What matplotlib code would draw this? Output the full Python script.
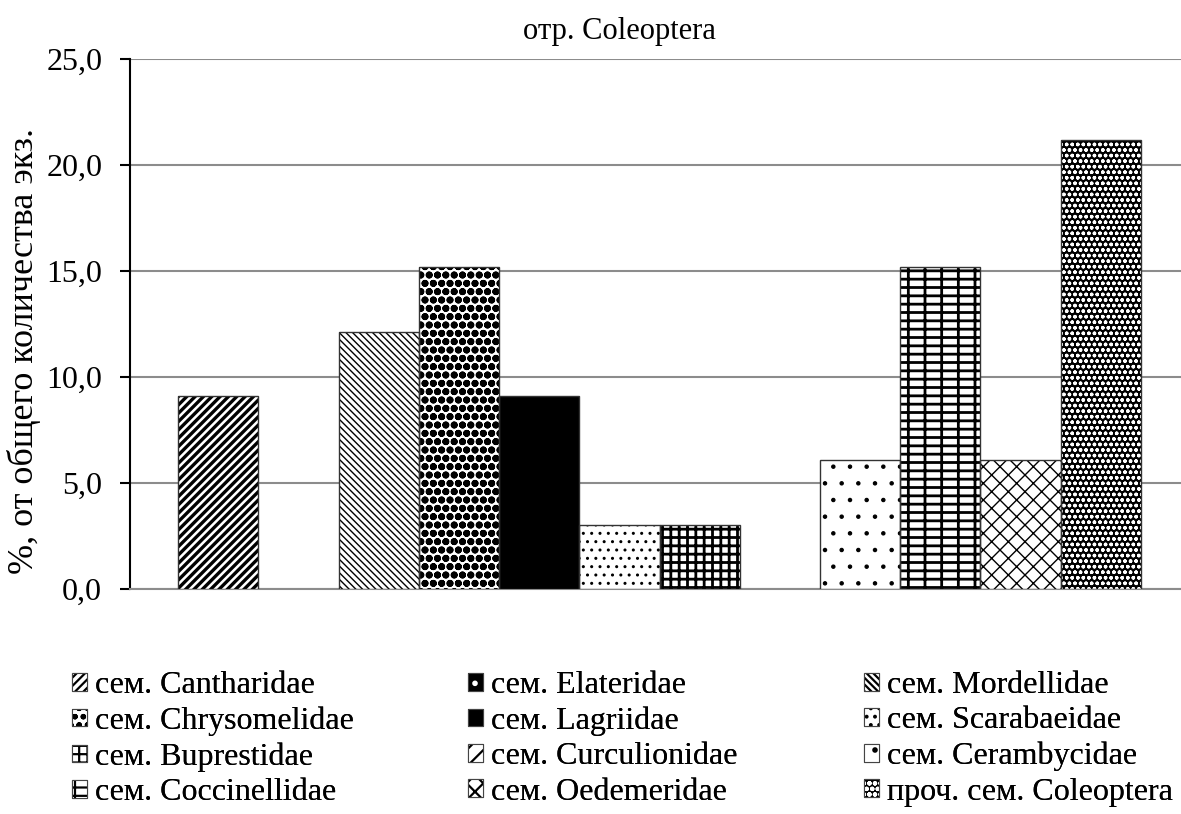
import matplotlib
matplotlib.use("Agg")
import matplotlib.pyplot as plt
from matplotlib.patches import Patch
import numpy as np

# series data (one category, 12 families)
families = [
    "сем. Cantharidae", "сем. Elateridae", "сем. Mordellidae",
    "сем. Chrysomelidae", "сем. Lagriidae", "сем. Scarabaeidae",
    "сем. Buprestidae", "сем. Curculionidae", "сем. Cerambycidae",
    "сем. Coccinellidae", "сем. Oedemeridae", "проч. сем. Coleoptera",
]
percents = [9.1, 0.0, 12.1, 15.2, 9.1, 3.0, 3.0, 0.0, 6.1, 15.2, 6.1, 21.2]
yticks = [0, 5, 10, 15, 20, 25]
title = "отр. Coleoptera"
ylabel = "%, от общего количества экз."

# (facecolor, hatch colour, hatch, hatch linewidth)
styles = [
    ("white", "black", "////", 2.4),
    ("black", "white", ".", 1.0),
    ("white", "black", "\\\\\\\\\\", 1.0),
    ("white", "black", "oo", 2.6),
    ("black", "black", "", 1.0),
    ("white", "black", "..", 1.0),
    ("white", "black", "++", 2.0),
    ("white", "black", "//", 1.5),
    ("white", "black", ".", 0.8),
    ("white", "black", "--|", 2.0),
    ("white", "black", "xx", 1.0),
    ("black", "white", "ooo", 1.0),
]

plt.rcParams["font.family"] = ["Liberation Serif", "DejaVu Serif"]
plt.rcParams["hatch.linewidth"] = 1.6

fig = plt.figure(figsize=(11.81, 8.14), dpi=100)
ax = fig.add_axes([130 / 1181, 225 / 814, 1059 / 1181, 530 / 814])

handles = []
for i, (name, val) in enumerate(zip(families, percents)):
    fc, hc, h, hlw = styles[i]
    b = ax.bar(i, val, width=1.0, color=fc, edgecolor=hc, hatch=h,
               linewidth=0, label=name, zorder=3)
    try:
        for p in b.patches:
            p.set_hatch_linewidth(hlw)
    except AttributeError:
        pass
    if val > 0:
        ax.bar(i, val, width=1.0, fill=False, edgecolor="#333333",
               linewidth=1.0, zorder=4)
    outline = Patch(facecolor="none", edgecolor="#444444", linewidth=0.8)
    handles.append((b, outline))

ax.set_xlim(-0.5 - 0.6, len(families) - 0.5 + 0.6)
ax.set_ylim(0, 25)
ax.set_yticks(yticks)
ax.set_yticklabels([f"{v:.1f}".replace(".", ",") for v in yticks], fontsize=23)
ax.set_xticks([])
ax.yaxis.grid(True, color="#8c8c8c", linewidth=1.5, zorder=0)
ax.set_axisbelow(True)
for s in ["top", "right"]:
    ax.spines[s].set_visible(False)
ax.spines["bottom"].set_color("#8c8c8c")
ax.spines["bottom"].set_linewidth(1.5)
ax.spines["left"].set_linewidth(1.5)
ax.tick_params(axis="y", length=7, width=1.5, direction="out", pad=13)

fig.text(24 / 1181, 1 - 351 / 814, ylabel, rotation=90, ha="center",
         va="center", fontsize=26)
fig.text(619 / 1181, 1 - 32 / 814, title, ha="center", va="center", fontsize=22)

# legend: 3 fixed columns, filled row by row
col_x = [72, 468, 864]
ncol = 3
for c in range(ncol):
    idx = list(range(c, len(families), ncol))
    leg = fig.legend([handles[k] for k in idx], [families[k] for k in idx],
                     loc="upper left", bbox_to_anchor=(col_x[c] / 1181, 1 - 671 / 814),
                     frameon=False, fontsize=23, handlelength=0.48, handleheight=0.48,
                     handletextpad=0.25, labelspacing=0.2, borderpad=0,
                     borderaxespad=0)
    fig.add_artist(leg)

fig.savefig("out.png", dpi=100)
